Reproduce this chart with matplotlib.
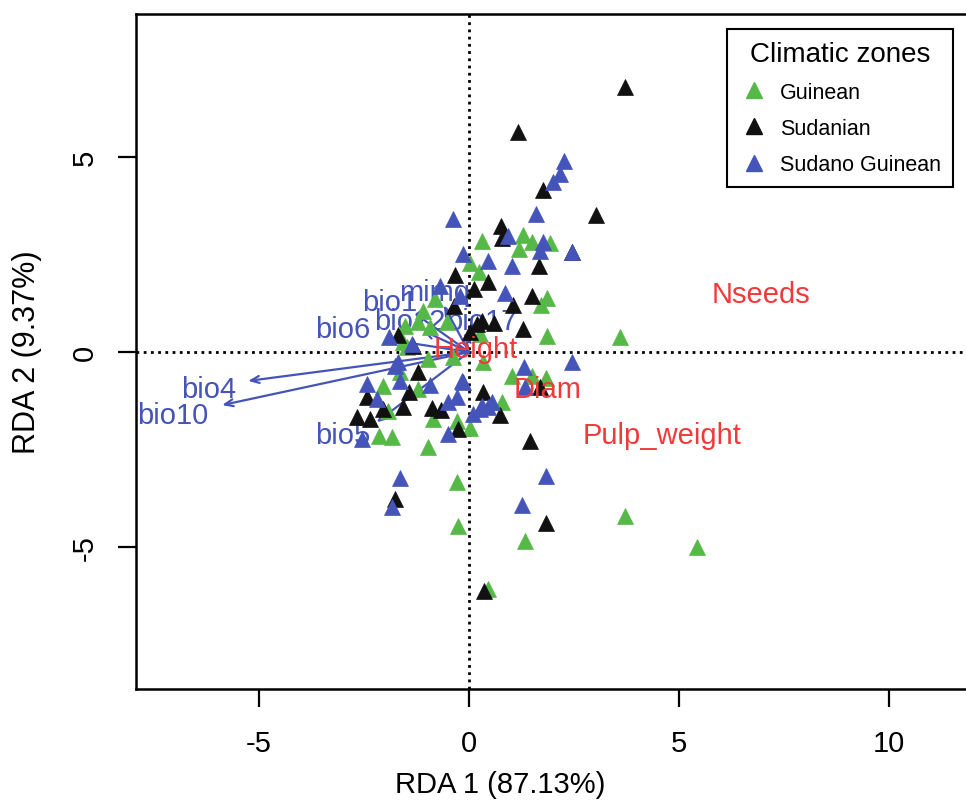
import matplotlib
matplotlib.use("Agg")
import matplotlib.pyplot as plt
from matplotlib.lines import Line2D

# site scores, RDA1 / RDA2, per climatic zone
guinean_x = [0.31, 1.29, 1.50, 1.19, 1.93, 0.02, 0.24, 1.86, 1.71, 1.86, 3.60, 0.26,
             -0.81, -1.10, -0.52, -1.52, -1.21, -0.93, -1.57, -1.64, -2.05, -1.21,
             -1.93, -0.86, -2.14, -1.83, -0.29, 0.02, -0.98, -0.29, -0.26, 1.33,
             3.71, 5.43, 0.45, 1.02, 1.50, 1.83, 0.79, 0.33, -0.98, -0.38, -1.48]
guinean_y = [2.85, 3.00, 2.82, 2.64, 2.79, 2.28, 2.05, 1.38, 1.21, 0.41, 0.38, 0.46,
             1.36, 1.05, 0.77, 0.67, 0.77, 0.64, 0.26, -0.51, -0.87, -0.95,
             -1.51, -1.72, -2.15, -2.18, -1.77, -1.95, -2.44, -3.33, -4.46, -4.85,
             -4.21, -5.00, -6.08, -0.62, -0.62, -0.67, -1.28, -0.26, -0.18, -0.13, 0.13]

sudanian_x = [3.71, 1.17, 1.76, 3.02, 0.76, 0.79, 1.67, 2.45, 0.45, 0.12, 1.50, 1.05,
              0.31, 0.60, 1.29, -0.33, -0.36, -1.69, -1.33, -1.21, -1.43, -2.43,
              -1.57, -2.67, -2.36, -0.88, -0.67, 0.33, -0.26, 0.74, 1.45, -1.76,
              1.83, 0.36, 0.02, 1.69, -2.05, 0.19]
sudanian_y = [6.79, 5.64, 4.15, 3.51, 3.23, 2.92, 2.21, 2.56, 1.79, 1.62, 1.44, 1.21,
              0.79, 0.74, 0.59, 1.97, 1.18, 0.44, 0.15, -0.51, -1.03, -1.15,
              -1.41, -1.67, -1.72, -1.44, -1.49, -1.03, -1.97, -1.62, -2.28, -3.77,
              -4.38, -6.13, 0.51, -0.90, -1.46, 0.72]

sudano_guinean_x = [2.26, 2.17, 2.00, 1.60, -0.38, 0.93, 1.76, 1.69, 2.45, -0.14, 0.45,
                    1.02, 0.86, -0.69, -0.21, -1.90, -1.76, -1.69, -1.64, -0.93, -0.17,
                    -2.19, -0.29, -0.50, 0.10, 0.31, 0.45, 0.26, 0.55, -0.50, -2.55,
                    1.31, 2.45, 1.33, -1.64, -1.83, 1.83, 1.26, -0.14, -1.36, -2.43]
sudano_guinean_y = [4.90, 4.56, 4.36, 3.54, 3.41, 2.97, 2.82, 2.59, 2.56, 2.51, 2.33,
                    2.21, 1.51, 1.69, 1.44, 0.38, -0.36, -0.26, -0.74, -0.85, -0.74,
                    -1.21, -1.15, -1.28, -1.59, -1.38, -1.41, -1.46, -1.28, -2.10, -2.23,
                    -0.38, -0.26, -0.90, -3.23, -3.97, -3.18, -3.92, -0.77, 0.21, -0.82]

# environmental variables: arrow tips and label positions
env_names = ["bio4", "bio10", "bio6", "bio1", "mimq", "bio12", "bio17", "bio5"]
env_x = [-5.26, -5.88, -2.00, -1.30, -0.60, -1.10, -0.10, -2.20]
env_y = [-0.74, -1.36, 0.33, 1.00, 1.20, 0.55, 0.50, -1.80]
env_lab_x = [-6.19, -7.05, -3.00, -1.90, -0.81, -1.40, 0.31, -3.00]
env_lab_y = [-0.95, -1.62, 0.59, 1.28, 1.54, 0.79, 0.79, -2.13]

# fruit traits
trait_names = ["Nseeds", "Height", "Diam", "Pulp_weight"]
trait_x = [6.95, 0.17, 1.86, 4.60]
trait_y = [1.49, 0.08, -0.95, -2.13]

zones = ["Guinean", "Sudanian", "Sudano Guinean"]
zone_cols = ["#56b947", "#111111", "#4454b8"]
env_col = "#4454b8"
trait_col = "#f03a3a"

plt.rcParams["font.family"] = ["Liberation Sans", "DejaVu Sans"]
plt.rcParams["axes.unicode_minus"] = False

fig = plt.figure(figsize=(9.66, 8.04), dpi=100)
ax = fig.add_axes([0.1408, 0.1418, 0.888, 0.8396])
ax.set_xlim(-7.93, 12.5)
ax.set_ylim(-8.64, 8.67)

ax.axhline(0, color="black", lw=2, ls=(0, (1, 1.6)), zorder=1)
ax.axvline(0, color="black", lw=2, ls=(0, (1, 1.6)), zorder=1)

for name, x, y, lx, ly in zip(env_names, env_x, env_y, env_lab_x, env_lab_y):
    ax.annotate("", xy=(x, y), xytext=(0, 0),
                arrowprops=dict(arrowstyle="->,head_length=0.6,head_width=0.25",
                                color=env_col, lw=1.6, shrinkA=0, shrinkB=0),
                zorder=2)
    ax.text(lx, ly, name, color=env_col, fontsize=21, ha="center", va="center", zorder=2)

groups = [(guinean_x, guinean_y), (sudanian_x, sudanian_y), (sudano_guinean_x, sudano_guinean_y)]
for (gx, gy), col in zip(groups, zone_cols):
    ax.plot(gx, gy, ls="none", marker="^", ms=11.5, color=col, mec=col, mew=0.5, zorder=3)

for name, x, y in zip(trait_names, trait_x, trait_y):
    ax.text(x, y, name, color=trait_col, fontsize=21, ha="center", va="center", zorder=4)

for s in ["left", "bottom", "top", "right"]:
    ax.spines[s].set_linewidth(1.8)
ax.set_xticks([-5, 0, 5, 10])
ax.set_yticks([-5, 0, 5])
ax.tick_params(length=13, width=1.6, labelsize=21)
ax.tick_params(axis="x", pad=16)
ax.tick_params(axis="y", pad=14)
for lab in ax.get_yticklabels():
    lab.set_rotation(90)
    lab.set_va("center")

fig.text(500 / 966, 1 - 785 / 804, "RDA 1 (87.13%)", fontsize=21,
         ha="center", va="center")
fig.text(27 / 966, 1 - 352 / 804, "RDA 2 (9.37%)", fontsize=22,
         ha="center", va="center", rotation=90)

handles = [Line2D([], [], ls="none", marker="^", ms=11, color=c) for c in zone_cols]
leg = fig.legend(handles, zones, title="Climatic zones", loc="upper left",
                 bbox_to_anchor=(727 / 966, 1 - 30 / 804), borderaxespad=0,
                 fontsize=15.5, title_fontsize=20, fancybox=False, edgecolor="black",
                 framealpha=1, borderpad=0.55, labelspacing=0.7, handletextpad=0.5,
                 handlelength=1.4)
leg.get_frame().set_linewidth(1.5)

fig.savefig("out.png", dpi=100)
